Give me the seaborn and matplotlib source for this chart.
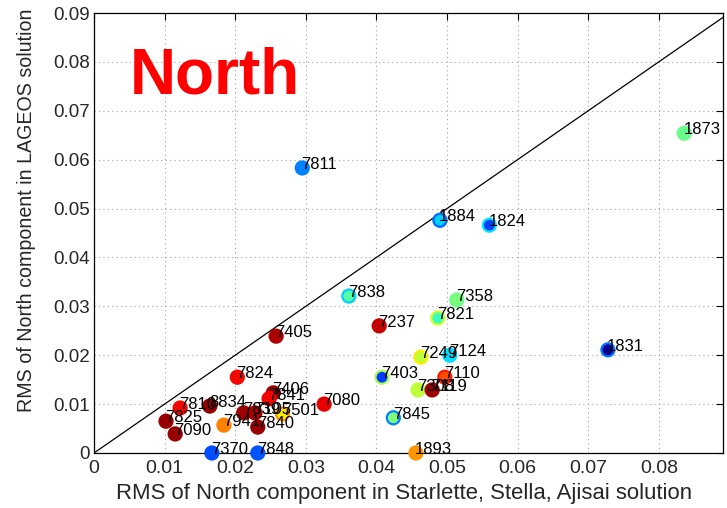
import numpy as np
import pandas as pd
import matplotlib
matplotlib.use("Agg")
import matplotlib.pyplot as plt
import seaborn as sns

# Station RMS values (metres) for the North component
stations = ["7811", "1873", "1884", "1824", "7838", "7358", "7821", "7237",
            "7405", "1831", "7124", "7249", "7824", "7403", "7110", "7308",
            "7119", "7080", "7845", "1893", "7370", "7848", "7825", "7090",
            "7810", "8834", "7941", "7840", "7839", "7105", "7406", "7841",
            "7501"]
rms_starlette = [0.0295, 0.0836, 0.0490, 0.0560, 0.0361, 0.0514, 0.0487, 0.0404,
                 0.0258, 0.0728, 0.0504, 0.0463, 0.0203, 0.0408, 0.0497, 0.0459,
                 0.0479, 0.0326, 0.0424, 0.0456, 0.0167, 0.0232, 0.0102, 0.0115,
                 0.0122, 0.0164, 0.0184, 0.0232, 0.0212, 0.0228, 0.0254, 0.0248,
                 0.0267]
rms_lageos = [0.0583, 0.0654, 0.0476, 0.0466, 0.0321, 0.0313, 0.0276, 0.0260,
              0.0239, 0.0211, 0.0200, 0.0196, 0.0155, 0.0155, 0.0155, 0.0129,
              0.0129, 0.0100, 0.0072, 0.0000, 0.0000, 0.0000, 0.0065, 0.0039,
              0.0092, 0.0096, 0.0057, 0.0053, 0.0082, 0.0082, 0.0123, 0.0111,
              0.0080]
# Colour-scale values (0..1 on the jet map) for marker fill and outline
fill_level = [0.25, 0.48, 0.33, 0.19, 0.45, 0.50, 0.42, 0.94,
              0.96, 0.02, 0.34, 0.58, 0.90, 0.18, 0.83, 0.58,
              0.97, 0.91, 0.50, 0.75, 0.20, 0.21, 0.98, 0.98,
              0.90, 0.98, 0.77, 0.98, 0.97, 0.96, 0.97, 0.90,
              0.66]
edge_level = [0.25, 0.48, 0.23, 0.35, 0.33, 0.48, 0.60, 0.94,
              0.96, 0.24, 0.34, 0.66, 0.90, 0.55, 0.88, 0.58,
              0.97, 0.91, 0.25, 0.75, 0.20, 0.21, 0.98, 0.98,
              0.90, 0.98, 0.77, 0.98, 0.97, 0.96, 0.97, 0.90,
              0.75]

x_ticks = [0, 0.01, 0.02, 0.03, 0.04, 0.05, 0.06, 0.07, 0.08]
x_tick_labels = ["0", "0.01", "0.02", "0.03", "0.04", "0.05", "0.06", "0.07", "0.08"]
y_ticks = [0, 0.01, 0.02, 0.03, 0.04, 0.05, 0.06, 0.07, 0.08, 0.09]
y_tick_labels = ["0", "0.01", "0.02", "0.03", "0.04", "0.05", "0.06", "0.07", "0.08", "0.09"]

df = pd.DataFrame({"station": stations, "x": rms_starlette, "y": rms_lageos,
                   "fill": fill_level, "edge": edge_level})

sns.set_style("white")
plt.rcParams["font.family"] = ["Liberation Sans", "DejaVu Sans"]

jet = matplotlib.colormaps["jet"]
fig = plt.figure(figsize=(7.27, 5.08), dpi=100)
ax = fig.add_axes([0.1293, 0.1083, 0.8652, 0.8661])

# 1:1 reference line
ax.plot([0, 0.1], [0, 0.1], color="black", lw=0.9, zorder=2)

sns.scatterplot(data=df, x="x", y="y", hue="fill", palette=jet,
                hue_norm=(0, 1), legend=False, ax=ax, s=88,
                edgecolor=[jet(v) for v in df["edge"]], linewidth=1.6,
                zorder=3, clip_on=False)

for _, r in df.iterrows():
    ax.annotate(r["station"], (r["x"], r["y"]), xytext=(-0.5, 2.5),
                textcoords="offset points", ha="left", va="center",
                fontsize=12, color="black", zorder=4)

ax.text(0.0051, 0.0770, "North", color="#ff0000", fontsize=46,
        fontweight="bold", ha="left", va="center", zorder=5)

ax.set_xlim(0, 0.0891)
ax.set_ylim(0, 0.09)
ax.set_xticks(x_ticks)
ax.set_xticklabels(x_tick_labels)
ax.set_yticks(y_ticks)
ax.set_yticklabels(y_tick_labels)
ax.tick_params(direction="in", length=5, width=0.8, top=True, right=True,
               pad=3, color="black")
ax.tick_params(axis="x", labelsize=14, pad=5)
ax.tick_params(axis="y", labelsize=13.5)
ax.grid(True, color="#a0a0a0", linestyle=(0, (1, 3)), linewidth=0.8)
for sp in ax.spines.values():
    sp.set_color("black")
    sp.set_linewidth(0.9)

ax.set_xlabel("RMS of North component in Starlette, Stella, Ajisai solution",
              fontsize=15.9)
ax.set_ylabel("RMS of North component in LAGEOS solution", fontsize=14.1)
ax.xaxis.set_label_coords(0.4936, -0.068)
ax.yaxis.set_label_coords(-0.092, 0.552)

fig.savefig("out.png", dpi=100)
